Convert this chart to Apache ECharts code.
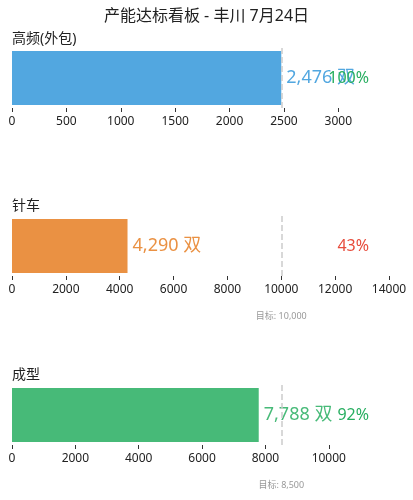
<!DOCTYPE html>
<html>
<head>
<meta charset="utf-8">
<script src="https://cdn.jsdelivr.net/npm/echarts@6/dist/echarts.min.js"></script>
<style>
html,body{margin:0;padding:0;background:#fff;}
#chart{width:413px;height:500px;}
</style>
</head>
<body>
<div id="chart"></div>
<script>
const chartTitle = '产能达标看板 - 丰川 7月24日';
const sections = ['高频(外包)', '针车', '成型'];
const actuals = [2476, 4290, 7788];
const targets = [2476, 10000, 8500];
const unit = '双';
const barColors = ['#3498db', '#e67e22', '#27ae60'];
const tickValues = [
  [0, 500, 1000, 1500, 2000, 2500, 3000],
  [0, 2000, 4000, 6000, 8000, 10000, 12000, 14000],
  [0, 2000, 4000, 6000, 8000, 10000]
];

const FONT = "'Noto Sans', 'Noto Sans CJK SC', sans-serif";
const gridTops = [48, 216, 385];
const sectionTitleTops = [32, 199, 368];

const chart = echarts.init(document.getElementById('chart'));
const titles = [{
  text: chartTitle, left: 'center', top: 8, padding: 0,
  textStyle: { fontSize: 16, fontWeight: 'normal', color: '#222', fontFamily: FONT }
}];
const grids = [], xAxes = [], yAxes = [], series = [];

sections.forEach((name, i) => {
  const actual = actuals[i], target = targets[i];
  const axisMax = Math.max(actual, target) * 1.4;
  const pct = Math.round(actual / target * 100);
  const pctColor = pct >= 90 ? '#27ae60' : '#e74c3c';
  titles.push({
    text: name, left: 12, top: sectionTitleTops[i], padding: 0,
    textStyle: { fontSize: 14, fontWeight: 'normal', color: '#222', fontFamily: FONT }
  });
  grids.push({ left: 12, right: 24, top: gridTops[i], height: 60 });
  xAxes.push({
    type: 'value', gridIndex: i, min: 0, max: axisMax,
    splitLine: { show: false },
    axisLine: { show: false },
    axisTick: { show: true, length: 4, customValues: tickValues[i], lineStyle: { color: '#333' } },
    axisLabel: {
      customValues: tickValues[i], formatter: v => String(v),
      fontSize: 12, color: '#222', fontFamily: FONT, margin: 8
    }
  });
  yAxes.push({
    type: 'category', gridIndex: i, data: [name], show: false
  });
  series.push({
    type: 'bar', xAxisIndex: i, yAxisIndex: i,
    data: [actual], barWidth: '90%',
    itemStyle: { color: barColors[i], opacity: 0.85 },
    label: {
      show: true, position: 'right', distance: 5,
      formatter: p => p.value.toLocaleString('en-US') + ' ' + unit,
      fontSize: 18, color: barColors[i], fontFamily: FONT
    },
    markLine: {
      silent: true, symbol: 'none',
      lineStyle: { type: 'dashed', color: '#ccc', width: 1.5 },
      label: {
        show: actual < target, position: 'start', distance: 36,
        formatter: '目标: ' + target.toLocaleString('en-US'),
        fontSize: 9, color: '#999', fontFamily: FONT
      },
      data: [{ xAxis: target }]
    },
    z: 2
  });
  series.push({
    type: 'bar', xAxisIndex: i, yAxisIndex: i, silent: true,
    data: [axisMax], barWidth: '90%', barGap: '-100%',
    itemStyle: { color: 'rgba(0,0,0,0)' },
    label: {
      show: true, position: 'insideRight', distance: 20,
      formatter: pct + '%', fontSize: 16, color: pctColor, fontFamily: FONT
    },
    z: 3
  });
});

chart.setOption({
  animation: false,
  title: titles,
  grid: grids,
  xAxis: xAxes,
  yAxis: yAxes,
  series: series
});
</script>
</body>
</html>
